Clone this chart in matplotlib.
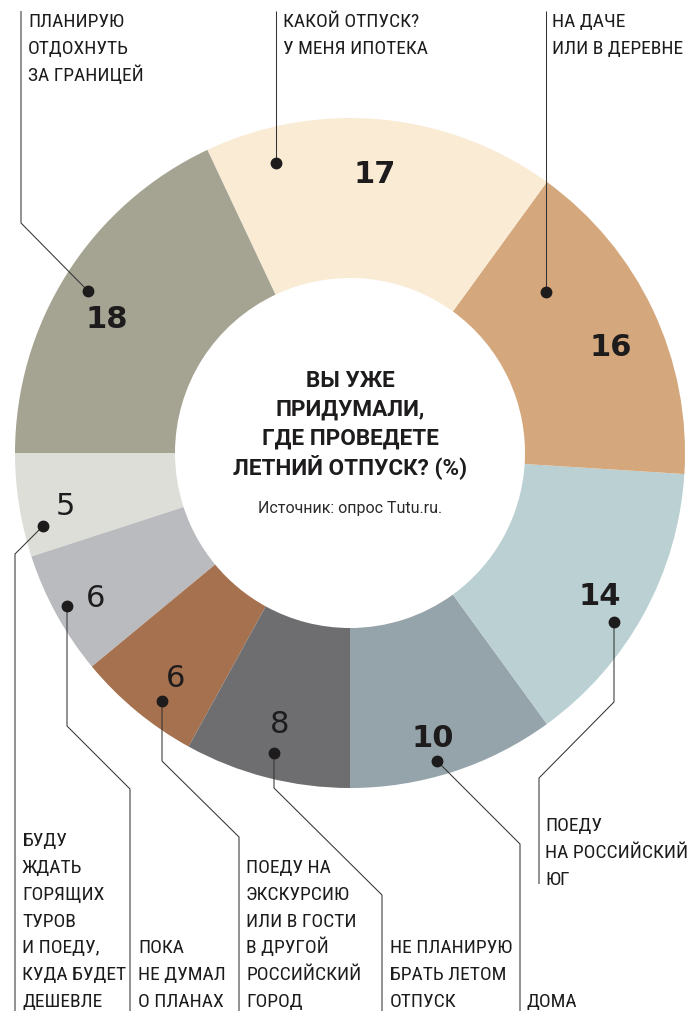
"""Donut: Вы уже придумали, где проведете летний отпуск? (%)"""

import matplotlib
matplotlib.use("Agg")
import matplotlib.pyplot as plt
from matplotlib import font_manager

# ── Data (counter-clockwise from the bottom) ─────────────────────────
values = [10, 14, 16, 17, 18, 5, 6, 6, 8]
answers = [
    "ДОМА",
    "ПОЕДУ\nНА РОССИЙСКИЙ\nЮГ",
    "НА ДАЧЕ\nИЛИ В ДЕРЕВНЕ",
    "КАКОЙ ОТПУСК?\nУ МЕНЯ ИПОТЕКА",
    "ПЛАНИРУЮ\nОТДОХНУТЬ\nЗА ГРАНИЦЕЙ",
    "БУДУ\nЖДАТЬ\nГОРЯЩИХ\nТУРОВ\nИ ПОЕДУ,\nКУДА БУДЕТ\nДЕШЕВЛЕ",
    "ПОКА\nНЕ ДУМАЛ\nО ПЛАНАХ",
    "ПОЕДУ НА\nЭКСКУРСИЮ\nИЛИ В ГОСТИ\nВ ДРУГОЙ\nРОССИЙСКИЙ\nГОРОД",
    "НЕ ПЛАНИРУЮ\nБРАТЬ ЛЕТОМ\nОТПУСК",
]
title = "ВЫ УЖЕ\nПРИДУМАЛИ,\nГДЕ ПРОВЕДЕТЕ\nЛЕТНИЙ ОТПУСК? (%)"
source = "Источник: опрос Tutu.ru."

colors = ["#95A3AA", "#BAD0D3", "#D4A77C", "#FAEBD5", "#A5A493",
          "#DEDED8", "#BABBBF", "#A5714E", "#6E6E71"]

# ── Fonts ────────────────────────────────────────────────────────────
avail = {f.name for f in font_manager.fontManager.ttflist}
if "Liberation Sans Narrow" in avail:
    LAB_FONT, LAB_SIZE = "Liberation Sans Narrow", 14
elif "Roboto Condensed" in avail:
    LAB_FONT, LAB_SIZE = "Roboto Condensed", 14
else:
    LAB_FONT, LAB_SIZE = "Roboto", 12.5
INK = "#1d1b1c"
LINE = "#333333"

# ── Layout (pixel coords, y measured from top) ───────────────────────
W, H = 691, 1012
CX, CY = 350, 454
R_OUT, RING = 335, 160
STEP = 26.8


def Y(y):
    return H - y


# per answer: text x, y of first-line centre (top) or last-line centre (bottom),
# anchor ("top"/"bottom"), leader polyline starting at the dot
layout = [
    (527, 1000, "bottom", [(437, 762), (520, 845), (520, 1012)]),
    (545, 878, "bottom", [(614, 623), (614, 703), (539, 779), (539, 885)]),
    (552, 20, "top", [(546, 293), (546, 12)]),
    (283, 20, "top", [(276, 164), (276, 12)]),
    (28, 20, "top", [(88, 292), (21, 224), (21, 12)]),
    (22, 1000, "bottom", [(43, 527), (15, 555), (15, 1012)]),
    (138, 1000, "bottom", [(67, 607), (67, 727), (130, 790), (130, 1012)]),
    (246, 1000, "bottom", [(162, 702), (162, 762), (239, 838), (239, 1012)]),
    (390, 1000, "bottom", [(274, 754), (274, 789), (382, 896), (382, 1012)]),
]
# nudges of the value labels (px, y down) from their mid-angle spot
nudges = [(-5, 14), (0, 5), (3, 15), (-2, 4), (-3, 18),
          (-3, 8), (-5, 7), (7, 5), (0, -5)]

fig = plt.figure(figsize=(W / 100, H / 100), dpi=100)
fig.patch.set_facecolor("white")
ax = fig.add_axes([0, 0, 1, 1])

wedges, texts, nums = ax.pie(
    values, colors=colors, startangle=270, counterclock=True,
    radius=R_OUT, center=(CX, Y(CY)),
    wedgeprops=dict(width=RING, linewidth=0),
    autopct=lambda p: f"{p:.0f}", pctdistance=0.85,
    textprops=dict(color=INK, fontsize=22, family="DejaVu Sans"),
)
for t, (dx, dy) in zip(nums, nudges):
    t.set_fontweight("bold" if len(t.get_text()) > 1 else "normal")
    x, y = t.get_position()
    t.set_position((x + dx, y - dy))

ax.set_xlim(0, W)
ax.set_ylim(0, H)
ax.set_aspect("equal")
ax.axis("off")

# ── Leaders + labels ─────────────────────────────────────────────────
for text, (tx, ty, anchor, path) in zip(answers, layout):
    xs = [p[0] for p in path]
    ys = [Y(p[1]) for p in path]
    ax.plot(xs, ys, color=LINE, lw=0.75, solid_capstyle="butt", zorder=3)
    ax.plot(xs[0], ys[0], "o", color=INK, ms=7.5, zorder=4)
    lines = text.split("\n")
    if anchor == "bottom":
        ty = ty - STEP * (len(lines) - 1)
    for i, ln in enumerate(lines):
        ax.text(tx, Y(ty + i * STEP) - 7, ln, ha="left", va="baseline",
                fontsize=LAB_SIZE, family=LAB_FONT, color=INK, zorder=5)

# ── Centre title ─────────────────────────────────────────────────────
for i, ln in enumerate(title.split("\n")):
    ax.text(CX, Y(379 + i * 29) - 8, ln, ha="center", va="baseline",
            fontsize=16.2, fontweight="bold", family="Roboto", color=INK)
ax.text(CX, Y(508) - 5.5, source, ha="center", va="baseline",
        fontsize=11.5, family="Roboto", color="#2a2a2a")

fig.savefig("out.png", dpi=100, facecolor="white")
